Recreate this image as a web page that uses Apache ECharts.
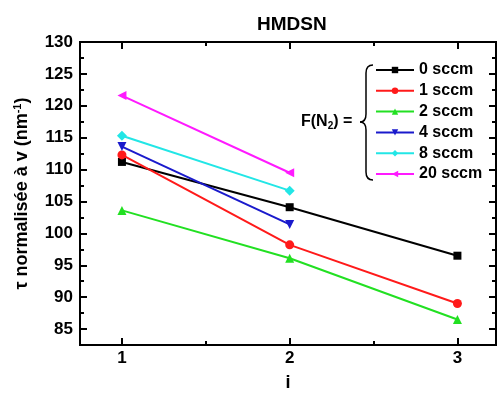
<!DOCTYPE html>
<html>
<head>
<meta charset="utf-8">
<script src="https://cdn.jsdelivr.net/npm/echarts@6/dist/echarts.min.js"></script>
<style>html,body{margin:0;padding:0;background:#fff}#c{width:499px;height:397px}</style>
</head>
<body>
<div id="c"></div>
<script>
const xValues = [1, 2, 3];
const seriesNames = ['0 sccm', '1 sccm', '2 sccm', '4 sccm', '8 sccm', '20 sccm'];
const s0 = [111.2, 104.1, 96.5];
const s1 = [112.3, 98.2, 89.0];
const s2 = [103.6, 96.1, 86.5];
const s4 = [113.6, 101.4];
const s8 = [115.3, 106.7];
const s20 = [121.6, 109.5];
const xMajorTicks = [1, 2, 3];
const xMinorTicks = [1.5, 2.5];
const yMajorTicks = [85, 90, 95, 100, 105, 110, 115, 120, 125, 130];
const yMinorTicks = [82.5, 87.5, 92.5, 97.5, 102.5, 107.5, 112.5, 117.5, 122.5, 127.5];

const allValues = [s0, s1, s2, s4, s8, s20];
const colors = ['#000000', '#ff1a1a', '#22e022', '#1a1acc', '#22e6e6', '#ff1aff'];
const symbols = ['rect', 'circle', 'triangle', 'triangle', 'diamond', 'triangle'];
const symbolSizes = [8, 9, 9, 9, 10, 9];
const rotates = [0, 0, 0, 180, 0, 90];

const font = 'Liberation Sans, Arial, sans-serif';
const chart = echarts.init(document.getElementById('c'));

const xMin = 0.75, xMax = 3.23, yMin = 82.5, yMax = 130;

function xAx(pos, ticks, len, labels, extra) {
  return Object.assign({
    type: 'value', position: pos, min: xMin, max: xMax, gridIndex: 0,
    axisLine: { show: true, lineStyle: { color: '#000', width: 2 } },
    axisTick: { show: true, inside: true, length: len, customValues: ticks, lineStyle: { color: '#000', width: 2 } },
    axisLabel: labels ? { show: true, customValues: xMajorTicks, color: '#000', fontSize: 17, fontWeight: 'bold', fontFamily: font, margin: 5 } : { show: false },
    splitLine: { show: false }
  }, extra || {});
}
function yAx(pos, ticks, len, labels, extra) {
  return Object.assign({
    type: 'value', position: pos, min: yMin, max: yMax, gridIndex: 0,
    axisLine: { show: true, lineStyle: { color: '#000', width: 2 } },
    axisTick: { show: true, inside: true, length: len, customValues: ticks, lineStyle: { color: '#000', width: 2 } },
    axisLabel: labels ? { show: true, customValues: yMajorTicks, color: '#000', fontSize: 17, fontWeight: 'bold', fontFamily: font, margin: 7 } : { show: false },
    splitLine: { show: false }
  }, extra || {});
}

const braceStyle = { fill: 'none', stroke: '#000', lineWidth: 1.5 };

const option = {
  backgroundColor: '#fff',
  animation: false,
  title: {
    text: 'HMDSN', left: 252, top: 10,
    textStyle: { fontSize: 19, fontWeight: 'bold', color: '#000', fontFamily: font }
  },
  grid: { left: 80, top: 42, right: 3, bottom: 44 },
  legend: {
    orient: 'vertical', left: 375, top: 62, padding: 0,
    itemWidth: 38, itemHeight: 8, itemGap: 4.8,
    data: seriesNames,
    textStyle: { fontSize: 16, fontWeight: 'bold', color: '#000', fontFamily: font }
  },
  xAxis: [
    xAx('bottom', xMajorTicks, 7, true, {
      name: 'i', nameLocation: 'middle', nameGap: 29,
      nameTextStyle: { fontSize: 18, fontWeight: 'bold', color: '#000', fontFamily: font }
    }),
    xAx('bottom', xMinorTicks, 4, false),
    xAx('top', xMajorTicks, 7, false),
    xAx('top', xMinorTicks, 4, false)
  ],
  yAxis: [
    yAx('left', yMajorTicks, 7, true, {
      name: '{a|τ normalisée à v (nm}{s|-1}{a|)}', nameLocation: 'middle', nameGap: 48,
      nameTextStyle: {
        color: '#000', fontFamily: font,
        rich: {
          a: { fontSize: 18, fontWeight: 'bold', color: '#000', fontFamily: font },
          s: { fontSize: 11, fontWeight: 'bold', color: '#000', fontFamily: font, padding: [0, 0, 9, 0] }
        }
      }
    }),
    yAx('left', yMinorTicks, 4, false),
    yAx('right', yMajorTicks, 7, false),
    yAx('right', yMinorTicks, 4, false)
  ],
  graphic: [
    { type: 'bezierCurve', shape: { x1: 373, y1: 65, x2: 366, y2: 73, cpx1: 366, cpy1: 65 }, style: braceStyle },
    { type: 'line', shape: { x1: 366, y1: 73, x2: 366, y2: 114 }, style: braceStyle },
    { type: 'bezierCurve', shape: { x1: 366, y1: 114, x2: 360, y2: 122, cpx1: 366, cpy1: 122 }, style: braceStyle },
    { type: 'bezierCurve', shape: { x1: 360, y1: 122, x2: 366, y2: 130, cpx1: 366, cpy1: 122 }, style: braceStyle },
    { type: 'line', shape: { x1: 366, y1: 130, x2: 366, y2: 172 }, style: braceStyle },
    { type: 'bezierCurve', shape: { x1: 366, y1: 172, x2: 373, y2: 180, cpx1: 366, cpy1: 180 }, style: braceStyle },
    {
      type: 'text', left: 301, top: 114,
      style: {
        text: '{a|F(N}{s|2}{a|) =}',
        rich: {
          a: { fontSize: 16, fontWeight: 'bold', fill: '#000', fontFamily: font },
          s: { fontSize: 10, fontWeight: 'bold', fill: '#000', fontFamily: font, padding: [8, 0, 0, 0] }
        }
      }
    }
  ],
  series: allValues.map((vals, i) => ({
    name: seriesNames[i],
    type: 'line',
    xAxisIndex: 0, yAxisIndex: 0,
    data: vals.map((v, j) => [xValues[j], v]),
    symbol: symbols[i], symbolSize: symbolSizes[i], symbolRotate: rotates[i],
    lineStyle: { color: colors[i], width: 2 },
    itemStyle: { color: colors[i] },
    emphasis: { disabled: true }
  }))
};
chart.setOption(option);
</script>
</body>
</html>
